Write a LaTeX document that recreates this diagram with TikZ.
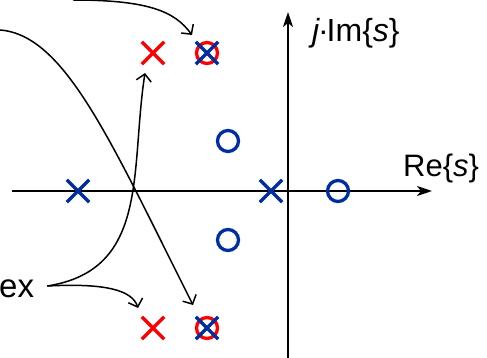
\documentclass[tikz,border=0pt]{standalone}
\usepackage{fontspec}
\setmainfont{Liberation Sans}
\usetikzlibrary{shapes.misc, arrows.meta}
\definecolor{Azul}{RGB}{0, 45, 160}
\definecolor{Rojo}{RGB}{255, 0, 0}

\begin{document}
\begin{tikzpicture}[
        x=1pt, y=-1pt,
        pole/.style={
            cross out,
            draw=Azul,
            line width=3.3pt,
            minimum size=19pt,
            inner sep=0pt
        },
        newpole/.style={
            pole,
            draw=Rojo
        },
        zero/.style={
            circle,
            draw=Azul,
            line width=3.3pt,
            minimum size=21pt,
            inner sep=0pt
        },
        cancel/.style={
            zero,
            draw=Rojo
        },
        axis/.style={
            line width=2pt,
            -{Stealth[length=15pt, width=10pt, inset=4pt]}
        },
        pointer/.style={
            line width=1.5pt,
            -{Straight Barb[length=7pt, width=15pt]}
        },
        axislabel/.style={
            font=\fontsize{31}{36}\selectfont,
            inner sep=0pt
        }
    ]
        \useasboundingbox (0, 0) rectangle (487, 358);

        % Axes of the s-plane
        \coordinate (west) at (12, 191);
        \coordinate (east) at (432, 191);
        \coordinate (south) at (288, 358);
        \coordinate (north) at (288, 12);
        \draw[axis] (west) -- (east);
        \draw[axis] (south) -- (north);
        \node[axislabel, anchor=base west] (re) at (403, 177) {Re\{\textit{s}\}};
        \node[axislabel, font=\fontsize{32}{36}\selectfont, anchor=base west] (im) at (312, 42) {\textit{j}\kern-2pt·\kern-2ptIm\{\textit{s}\}};

        % Poles and zeros of the plant
        \node[pole] (p1) at (78, 191) {};
        \node[pole] (p2) at (271, 191) {};
        \node[zero] (z1) at (228, 141) {};
        \node[zero] (z2) at (228, 240) {};
        \node[zero] (z3) at (338, 191) {};

        % Added poles, cancelled poles
        \node[newpole] (r1) at (153, 53) {};
        \node[newpole] (r2) at (153, 328) {};
        \node[cancel] (c1) at (207, 53) {};
        \node[pole] (d1) at (207, 53) {};
        \node[cancel] (c2) at (207, 328) {};
        \node[pole] (d2) at (207, 328) {};

        % Pointers
        \node[font=\fontsize{33}{38}\selectfont, inner sep=0pt, anchor=west] (ex) at (-1, 289) {ex};
        \coordinate (fork) at ([xshift=13pt, yshift=3pt]ex.east);
        \coordinate (top) at (73, 0);
        \coordinate (left) at (0, 30);
        \draw[pointer] (fork) .. controls (150, 270) and (130, 170) .. ([xshift=-8pt, yshift=-20pt]r1.center);
        \draw[pointer] (fork) .. controls (105, 283) and (132, 290) .. ([xshift=-15pt, yshift=20pt]r2.center);
        \draw[pointer] (top) .. controls (150, 0) and (175, 12) .. ([xshift=-15pt, yshift=18pt]d1.center);
        \draw[pointer] (left) .. controls (65, 35) and (110, 140) .. ([xshift=-14pt, yshift=23pt]d2.center);

    \end{tikzpicture}
\end{document}
